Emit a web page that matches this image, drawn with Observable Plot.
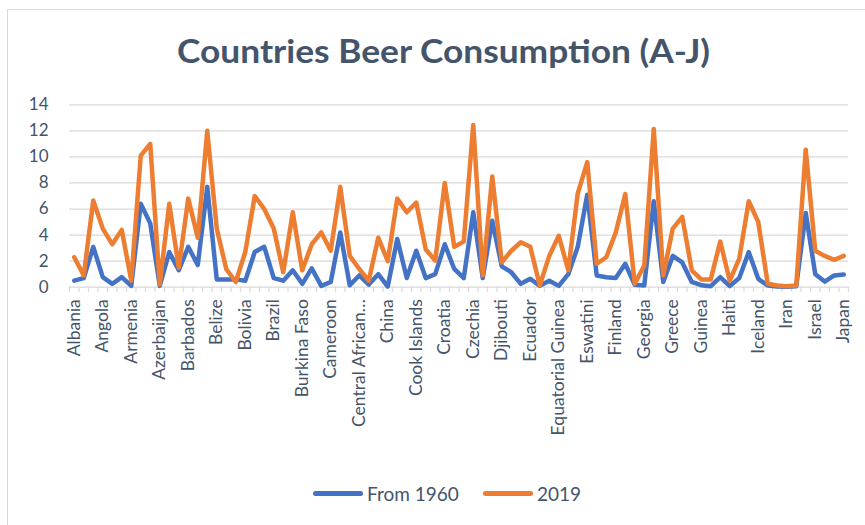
<!DOCTYPE html>
<html>
<head>
<meta charset="utf-8">
<script src="https://cdn.jsdelivr.net/npm/d3@7"></script>
<script src="https://cdn.jsdelivr.net/npm/@observablehq/plot@0.6"></script>
<style>
  html, body { margin: 0; padding: 0; background: #fff; overflow: hidden; }
  #wrap { position: relative; width: 865px; height: 525px; font-family: Lato, "Open Sans", sans-serif; color: #44546A; }
  #frame { position: absolute; left: 7px; top: 9px; width: 900px; height: 600px; border: 1px solid #d9d9d9; box-sizing: border-box; pointer-events: none; }
  #title { display: block; }
  #chart svg [aria-label^="x-axis"] text { font-size: 17.5px; }
  #legend { position: relative; height: 46px; font-size: 19px; color: #44546A; }
  .item { position: absolute; top: 0; height: 46px; display: flex; align-items: center; }
  .sw { width: 50px; height: 5px; border-radius: 3px; margin-right: 4px; }
</style>
</head>
<body>
<div id="wrap">
  <div id="frame"></div>
  <svg id="title" width="865" height="80">
    <text x="443.5" y="63" text-anchor="middle" font-family="Lato, 'Open Sans', sans-serif" font-weight="bold" font-size="33" fill="#44546A" textLength="533" lengthAdjust="spacingAndGlyphs">Countries Beer Consumption (A-J)</text>
  </svg>
  <div id="chart"></div>
  <div id="legend"></div>
</div>
<script>
const countries = [
  "Albania","Algeria","Andorra","Angola","Antigua and Barbuda","Argentina","Armenia","Australia","Austria","Azerbaijan",
  "Bahamas","Bahrain","Barbados","Belarus","Belgium","Belize","Benin","Bhutan","Bolivia","Bosnia and Herzegovina",
  "Botswana","Brazil","Brunei","Bulgaria","Burkina Faso","Burundi","Cambodia","Cameroon","Canada","Cape Verde",
  "Central African Republic","Chad","Chile","China","Colombia","Comoros","Cook Islands","Costa Rica","Côte d'Ivoire","Croatia",
  "Cuba","Cyprus","Czechia","DR Congo","Denmark","Djibouti","Dominica","Dominican Republic","Ecuador","Egypt",
  "El Salvador","Equatorial Guinea","Eritrea","Estonia","Eswatini","Ethiopia","Fiji","Finland","France","Gabon",
  "Georgia","Germany","Ghana","Greece","Grenada","Guatemala","Guinea","Guinea-Bissau","Guyana","Haiti",
  "Honduras","Hungary","Iceland","India","Indonesia","Iran","Iraq","Ireland","Israel","Italy",
  "Jamaica","Japan"
];
const from1960 = [
  0.5,0.7,3.1,0.77,0.26,0.77,0.1,6.4,4.9,0.1,
  2.7,1.3,3.1,1.7,7.7,0.6,0.6,0.6,0.5,2.7,
  3.1,0.7,0.5,1.3,0.26,1.45,0.1,0.4,4.2,0.15,
  0.9,0.2,1.0,0.05,3.7,0.7,2.8,0.7,1.0,3.3,
  1.4,0.7,5.75,0.7,5.1,1.6,1.15,0.26,0.65,0.1,
  0.5,0.1,1.0,3.1,7.1,0.9,0.77,0.7,1.8,0.18,
  0.13,6.6,0.4,2.4,1.9,0.4,0.15,0.08,0.77,0.08,
  0.7,2.7,0.64,0.13,0.05,0.03,0.08,5.7,1.0,0.43,
  0.9,0.97
];
const in2019 = [
  2.3,0.9,6.65,4.5,3.3,4.4,0.5,10.1,11.0,0.2,
  6.4,1.5,6.8,3.8,12.0,4.5,1.4,0.4,2.7,7.0,
  6.0,4.5,1.15,5.75,1.3,3.3,4.2,2.8,7.7,2.4,
  1.4,0.5,3.8,2.0,6.8,5.75,6.5,2.9,2.05,8.0,
  3.1,3.5,12.45,0.9,8.5,1.9,2.8,3.45,3.1,0.13,
  2.4,3.95,1.3,7.2,9.6,1.8,2.3,4.2,7.15,0.26,
  1.66,12.15,0.9,4.5,5.4,1.3,0.6,0.6,3.5,0.5,
  2.2,6.6,5.0,0.26,0.13,0.08,0.13,10.55,2.8,2.4,
  2.1,2.4
];
const seriesNames = ["From 1960", "2019"];
const seriesColors = ["#4472C4", "#ED7D31"];
const yTicks = [0, 2, 4, 6, 8, 10, 12, 14];
const labelStep = 3;

const shown = new Set(countries.filter((d, i) => i % labelStep === 0));
const shorten = d => d.length > 20 ? d.slice(0, 15) + "\u2026" : d;

const data = [];
countries.forEach((c, i) => {
  data.push({country: c, series: seriesNames[0], value: from1960[i]});
  data.push({country: c, series: seriesNames[1], value: in2019[i]});
});

const plotWidth = 865, marginLeft = 69, marginRight = 17;
const halfStep = (plotWidth - marginLeft - marginRight) / countries.length / 2;

const chart = Plot.plot({
  width: plotWidth,
  height: 390,
  marginTop: 24.3,
  marginBottom: 183.3,
  marginLeft,
  marginRight,
  style: {fontFamily: "Lato, 'Open Sans', sans-serif", fontSize: "17px", color: "#44546A", background: "transparent", overflow: "visible"},
  x: {
    type: "point", domain: countries, padding: 0.5, label: null,
    tickSize: 0, tickPadding: 12, tickRotate: -90,
    tickFormat: d => shown.has(d) ? shorten(d) : ""
  },
  y: {domain: [0, 14], ticks: yTicks, tickSize: 0, tickPadding: 21, label: null},
  color: {domain: seriesNames, range: seriesColors},
  marks: [
    Plot.ruleY(yTicks, {stroke: "#d9d9d9", strokeWidth: 1.3}),
    Plot.ruleX(countries, {x: d => d, y1: 0, y2: 0, insetBottom: -5, dx: -halfStep, stroke: "#d9d9d9", strokeWidth: 1.3}),
    Plot.ruleX(countries.slice(-1), {x: d => d, y1: 0, y2: 0, insetBottom: -5, dx: halfStep, stroke: "#d9d9d9", strokeWidth: 1.3}),
    Plot.line(data, {x: "country", y: "value", stroke: "series", strokeWidth: 4.5, strokeLinejoin: "round", strokeLinecap: "round"})
  ]
});
document.getElementById("chart").appendChild(chart);

const legend = document.getElementById("legend");
const lefts = [313, 483];
seriesNames.forEach((name, i) => {
  const item = document.createElement("div");
  item.className = "item";
  item.style.left = lefts[i] + "px";
  const sw = document.createElement("div");
  sw.className = "sw";
  sw.style.background = seriesColors[i];
  const tx = document.createElement("span");
  tx.textContent = name;
  item.appendChild(sw);
  item.appendChild(tx);
  legend.appendChild(item);
});
</script>
</body>
</html>
